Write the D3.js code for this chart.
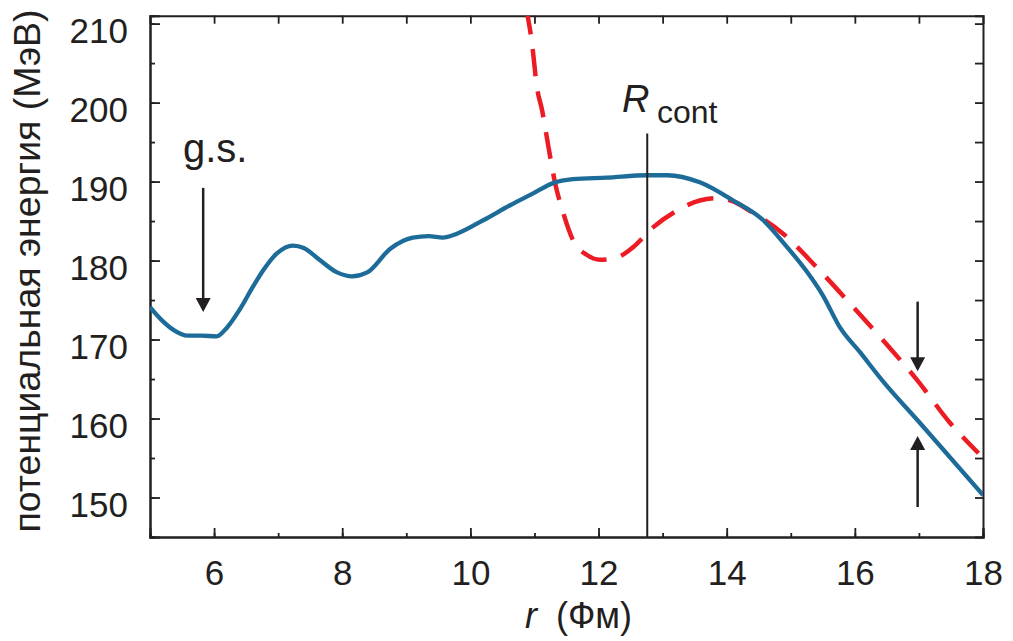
<!DOCTYPE html>
<html>
<head>
<meta charset="utf-8">
<script src="https://cdn.jsdelivr.net/npm/d3@7"></script>
<style>
  body { margin: 0; background: #fff; }
  svg text { font-family: "Liberation Sans", Arial, sans-serif; fill: #231f20; }
</style>
</head>
<body>
<svg id="chart"></svg>
<script>
// potential energy vs r
const blueR = [5, 5.19, 5.39, 5.58, 5.8, 6.04, 6.2, 6.4, 6.6, 6.77, 6.98, 7.23, 7.4, 7.6, 7.92, 8.15, 8.39, 8.75, 9.1, 9.35, 9.57, 9.79, 10.2, 10.62, 10.98, 11.29, 11.6, 12.13, 12.76, 13.07, 13.58, 14.1, 14.57, 14.88, 15.25, 15.5, 15.77, 16.08, 16.44, 17.02, 18];
const blueV = [174.1, 172.4, 171.1, 170.5, 170.5, 170.4, 171.5, 173.8, 176.6, 178.8, 180.9, 181.9, 181.6, 180.4, 178.5, 178.0, 178.5, 181.5, 182.9, 183.1, 182.9, 183.4, 185.1, 187.0, 188.5, 189.8, 190.3, 190.5, 190.8, 190.8, 189.9, 187.6, 185.1, 182.3, 178.6, 175.6, 171.5, 168.4, 164.7, 159.4, 150.3];

const redR = [10.87, 10.96, 11.04, 11.12, 11.22, 11.32, 11.45, 11.6, 11.82, 12.02, 12.29, 12.54, 12.85, 13.22, 13.58, 13.85, 14.1, 14.36, 14.88, 15.41, 15.92, 16.44, 16.97, 17.48, 17.93];
const redV = [212, 207.6, 201.9, 199.0, 194.3, 189.9, 186.0, 182.6, 180.7, 180.1, 180.4, 181.7, 184.2, 186.3, 187.6, 187.9, 187.5, 186.3, 183.4, 179.1, 174.6, 169.9, 164.9, 159.5, 155.6];

const xTicks = [6, 8, 10, 12, 14, 16, 18];
const yTicks = [150, 160, 170, 180, 190, 200, 210];

// annotations (data units)
const rCont = 12.76;
const gsArrow = {r: 5.83, from: 189.2, to: 173.5};
const downArrow = {r: 16.98, from: 174.8, to: 166.0};
const upArrow = {r: 16.98, from: 148.8, to: 157.8};

const W = 1013, H = 641;
const svg = d3.select("#chart").attr("width", W).attr("height", H);

const x = d3.scaleLinear().domain([5, 18]).range([150, 983]);
const y = d3.scaleLinear().domain([145, 211]).range([537, 15.7]);

const axisColor = "#231f20";

// clip for curves
svg.append("clipPath").attr("id", "plot")
  .append("rect")
  .attr("x", x(5)).attr("y", y(211))
  .attr("width", x(18) - x(5)).attr("height", y(145) - y(211));

// frame ticks (inward on all sides)
function styleAxis(g) {
  g.select(".domain").attr("stroke", axisColor).attr("stroke-width", 2);
  g.selectAll(".tick line").attr("stroke", axisColor).attr("stroke-width", 1.8);
}

// bottom major + minor
svg.append("g")
  .attr("transform", `translate(0,${y(145)})`)
  .call(d3.axisBottom(x).tickValues(d3.range(5, 18.5, 1)).tickSize(-4).tickFormat(""))
  .call(styleAxis);
svg.append("g")
  .attr("transform", `translate(0,${y(145)})`)
  .call(d3.axisBottom(x).tickValues(xTicks).tickSize(-9).tickPadding(0).tickFormat(d3.format("d")))
  .call(styleAxis)
  .call(g => g.selectAll("text")
    .attr("y", 48).attr("dy", null)
    .style("font-size", "35px").attr("fill", axisColor));

// left major + minor
svg.append("g")
  .attr("transform", `translate(${x(5)},0)`)
  .call(d3.axisLeft(y).tickValues(d3.range(145, 211, 5)).tickSize(-5).tickFormat(""))
  .call(styleAxis);
svg.append("g")
  .attr("transform", `translate(${x(5)},0)`)
  .call(d3.axisLeft(y).tickValues(yTicks).tickSize(-10).tickFormat(d3.format("d")))
  .call(styleAxis)
  .call(g => g.selectAll("text")
    .attr("x", -22).attr("dy", null).attr("y", 19)
    .style("font-size", "35px").attr("fill", axisColor));

// top and right
svg.append("g")
  .attr("transform", `translate(0,${y(211)})`)
  .call(d3.axisTop(x).tickValues(d3.range(6, 18, 1)).tickSize(-8).tickFormat(""))
  .call(styleAxis);
svg.append("g")
  .attr("transform", `translate(${x(18)},0)`)
  .call(d3.axisRight(y).tickValues(d3.range(150, 211, 5)).tickSize(-8).tickFormat(""))
  .call(styleAxis);

// curves
const line = d3.line()
  .x(d => x(d[0]))
  .y(d => y(d[1]))
  .curve(d3.curveMonotoneX);

svg.append("path")
  .datum(redR.map((r, i) => [r, redV[i]]))
  .attr("clip-path", "url(#plot)")
  .attr("fill", "none")
  .attr("stroke", "#ed1c24")
  .attr("stroke-width", 4.5)
  .attr("stroke-dasharray", "27,15")
  .attr("d", line);

svg.append("path")
  .datum(blueR.map((r, i) => [r, blueV[i]]))
  .attr("clip-path", "url(#plot)")
  .attr("fill", "none")
  .attr("stroke", "#1c6b98")
  .attr("stroke-width", 4.3)
  .attr("d", line);

// R_cont marker
svg.append("line")
  .attr("x1", x(rCont)).attr("x2", x(rCont))
  .attr("y1", y(196.1)).attr("y2", y(145))
  .attr("stroke", axisColor).attr("stroke-width", 2);

const rLabel = svg.append("text")
  .attr("x", 622).attr("y", 112);
rLabel.append("tspan").style("font-style", "italic").style("font-size", "38px").text("R");
svg.append("text")
  .attr("x", 657).attr("y", 123)
  .style("font-size", "32px").text("cont");

// arrows
function arrow(a) {
  const xa = x(a.r), y0 = y(a.from), y1 = y(a.to);
  const dir = y1 > y0 ? 1 : -1;
  svg.append("line")
    .attr("x1", xa).attr("x2", xa)
    .attr("y1", y0).attr("y2", y1 - dir * 12)
    .attr("stroke", axisColor).attr("stroke-width", 2.5);
  svg.append("path")
    .attr("d", `M${xa},${y1} L${xa - 7.5},${y1 - dir * 14} L${xa + 7.5},${y1 - dir * 14} Z`)
    .attr("fill", axisColor);
}
arrow(gsArrow);
arrow(downArrow);
arrow(upArrow);

svg.append("text")
  .attr("x", 183).attr("y", 162)
  .style("font-size", "40px").text("g.s.");

// axis titles
const xt = svg.append("text").attr("x", 525).attr("y", 628).style("font-size", "36px");
xt.append("tspan").style("font-style", "italic").text("r");
svg.append("text").attr("x", 556).attr("y", 628).style("font-size", "36px").text("(Фм)");

svg.append("text")
  .attr("transform", "translate(40,271) rotate(-90)")
  .attr("text-anchor", "middle")
  .style("font-size", "37px")
  .attr("textLength", 523)
  .attr("lengthAdjust", "spacingAndGlyphs")
  .text("потенциальная энергия (МэВ)");
</script>
</body>
</html>
